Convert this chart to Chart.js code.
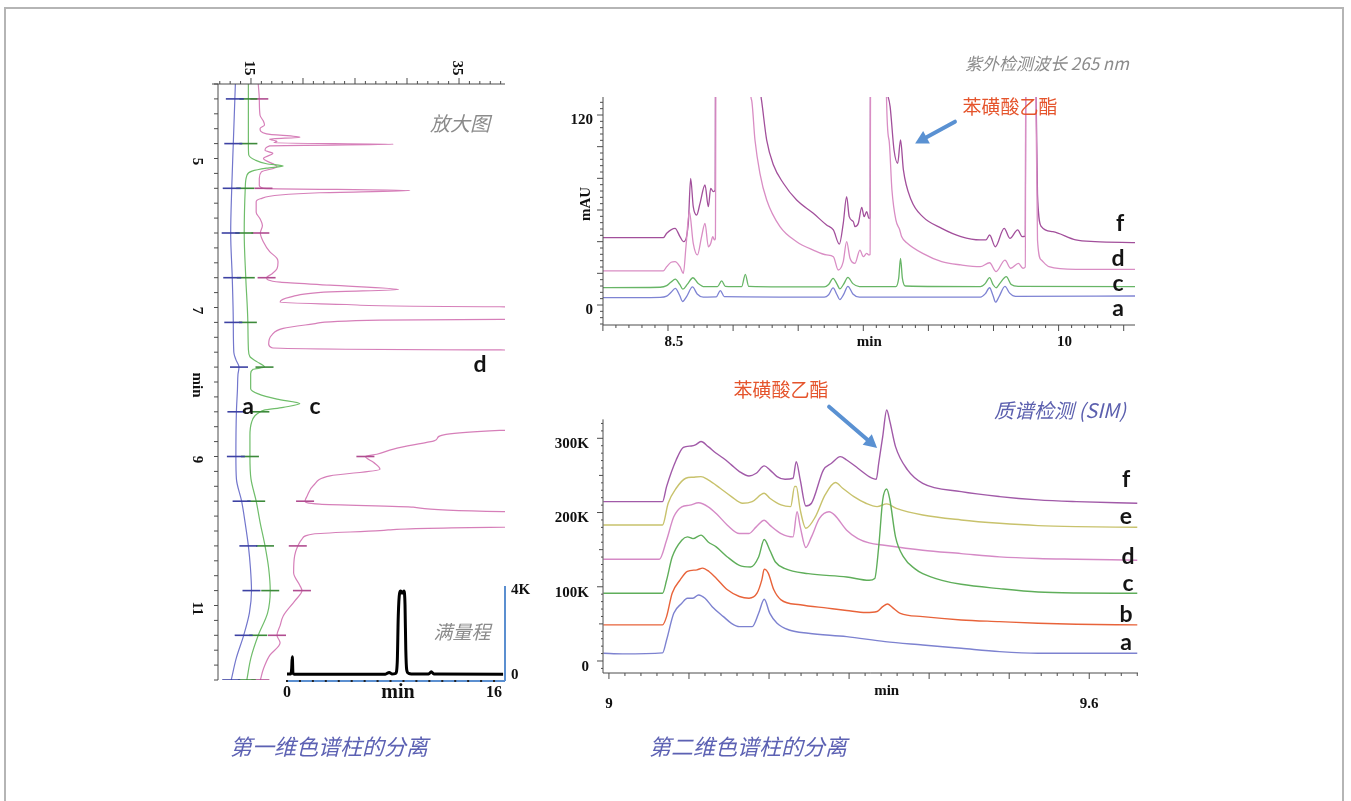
<!DOCTYPE html>
<html lang="zh-CN">
<head>
<meta charset="utf-8">
<title>二维液相色谱分离 — 苯磺酸乙酯</title>
<script src="https://cdn.jsdelivr.net/npm/chart.js@4.4.1/dist/chart.umd.min.js"></script>
<style>
  html, body { margin: 0; padding: 0; background: #fff; }
  #page { position: relative; width: 1351px; height: 801px; overflow: hidden; background: #fff; }
  #frame { position: absolute; left: 4px; top: 7px; width: 1340px; height: 830px; border: 2px solid #b5b5b5; box-sizing: border-box; }
  canvas.layer { position: absolute; left: 0; top: 0; width: 1351px; height: 801px; }
  .t { position: absolute; transform: translate(-50%, -50%); white-space: nowrap; line-height: 1; }
  .r { transform: translate(-100%, -50%); }
  .cn { font-family: "Noto Sans CJK SC", "Noto Sans", sans-serif; }
  .note { font-style: italic; color: #8b8b8b; }
  .cap { font-style: italic; color: #5c61b3; font-size: 22px; }
  .hit { color: #e5542c; font-size: 19px; }
  .tag { font: bold 23px Lato, "Open Sans", sans-serif; color: #141414; }
</style>
</head>
<body>
<div id="page">
  <div id="frame"></div>
  <canvas id="dim1" class="layer" width="1351" height="801"></canvas>
  <canvas id="full" class="layer" width="1351" height="801"></canvas>
  <canvas id="uv" class="layer" width="1351" height="801"></canvas>
  <canvas id="ms" class="layer" width="1351" height="801"></canvas>

  <!-- first dimension -->
  <div class="t cn note" style="left:460px;top:123px;font-size:20px;">放大图</div>
  <div class="t cn note" style="left:462px;top:630px;font-size:19px;">满量程</div>
  <div class="t tag" style="left:480px;top:363px;">d</div>
  <div class="t tag" style="left:248px;top:405px;">a</div>
  <div class="t tag" style="left:315px;top:405px;">c</div>
  <div class="t cn cap" style="left:329px;top:745px;">第一维色谱柱的分离</div>

  <!-- second dimension, UV -->
  <div class="t r cn note" style="left:1129px;top:62px;font-size:17px;">紫外检测波长 265 nm</div>
  <div class="t cn hit" style="left:1010px;top:105px;">苯磺酸乙酯</div>
  <div class="t tag" style="left:1120px;top:222px;">f</div>
  <div class="t tag" style="left:1118px;top:257px;">d</div>
  <div class="t tag" style="left:1118px;top:282px;">c</div>
  <div class="t tag" style="left:1118px;top:307px;">a</div>

  <!-- second dimension, MS -->
  <div class="t cn hit" style="left:781px;top:388px;">苯磺酸乙酯</div>
  <div class="t cn" style="left:1060px;top:410px;font-size:20px;font-style:italic;color:#5b5fae;">质谱检测 (SIM)</div>
  <div class="t tag" style="left:1126px;top:478px;">f</div>
  <div class="t tag" style="left:1126px;top:515px;">e</div>
  <div class="t tag" style="left:1128px;top:555px;">d</div>
  <div class="t tag" style="left:1128px;top:582px;">c</div>
  <div class="t tag" style="left:1126px;top:613px;">b</div>
  <div class="t tag" style="left:1126px;top:641px;">a</div>
  <div class="t cn cap" style="left:748px;top:745px;">第二维色谱柱的分离</div>
</div>

<script>
// ---------- first dimension (zoomed traces, time runs downward) : [time min, signal] ----------
const cutTimes = [4.2, 4.8, 5.4, 6.0, 6.6, 7.2, 7.8, 8.4, 9.0, 9.6, 10.2, 10.8, 11.4, 12.0];

const dimOneA = [[4.0,13.5],[4.2,13.45],[4.8,13.3],[5.4,13.15],[6.0,13.05],[6.6,13.2],[7.2,13.3],[7.6,13.35],
  [7.7,13.55],[7.8,13.85],[7.9,13.75],[8.1,13.7],[8.4,13.6],[9.0,13.55],[9.3,13.6],[9.6,14.1],[9.9,14.45],
  [10.2,14.75],[10.5,14.95],[10.8,15.05],[11.1,14.85],[11.4,14.3],[11.7,13.6],[12.0,13.1]];

const dimOneC = [[4.0,14.75],[4.2,14.75],[4.8,14.75],[4.95,14.78],[5.02,15.4],[5.07,16.5],[5.10,18.1],[5.13,16.5],
  [5.17,15.1],[5.23,14.6],[5.4,14.45],[6.0,14.35],[6.6,14.5],[7.2,14.7],[7.55,14.75],[7.66,14.9],[7.73,15.6],
  [7.8,16.3],[7.83,15.2],[7.89,14.97],[8.09,14.97],[8.16,15.7],[8.23,17.5],[8.29,19.7],[8.34,18.1],[8.38,16.2],
  [8.4,15.9],[8.45,15.4],[8.54,15.06],[8.72,14.9],[9.0,14.9],[9.3,15.0],[9.6,15.5],[9.9,15.9],[10.2,16.35],
  [10.5,16.7],[10.8,16.85],[11.1,16.6],[11.4,15.7],[11.7,15.0],[12.0,14.6]];

const dimOneD = [[4.0,15.7],[4.2,15.8],[4.42,15.87],[4.5,16.2],[4.55,16.3],[4.6,15.87],[4.67,16.5],[4.715,19.7],
  [4.74,16.8],[4.77,17.5],[4.79,17.2],[4.81,28.7],[4.83,16.8],[4.89,16.35],[4.93,17.1],[5.0,16.2],[5.11,17.5],
  [5.18,16.0],[5.27,15.8],[5.36,15.8],[5.40,16.2],[5.43,30.3],[5.46,21.6],[5.49,17.8],[5.54,15.9],[5.58,15.5],
  [5.72,15.5],[5.81,15.87],[5.9,16.1],[6.0,15.9],[6.12,16.2],[6.25,16.8],[6.34,17.5],[6.39,17.6],[6.48,17.5],
  [6.55,17.0],[6.6,16.5],[6.66,17.8],[6.70,22.6],[6.76,29.2],[6.79,22.6],[6.86,18.75],[6.93,17.8],[6.96,24.2],
  [6.99,38.9],[7.0,80],[7.15,80],[7.16,39],[7.17,27.4],[7.22,21],[7.28,18.1],[7.37,17.0],[7.49,16.7],[7.54,17.0],
  [7.57,39],[7.58,80],[8.64,80],[8.65,38.9],[8.76,32.9],[8.79,32.6],[8.81,31.9],[8.90,28.7],[8.97,27.1],[9.0,26.0],
  [9.08,26.8],[9.17,27.4],[9.26,22.6],[9.39,21.0],[9.53,20.4],[9.6,20.2],[9.64,21.6],[9.68,30.6],[9.74,39.2],
  [9.76,80],[9.93,80],[9.95,38],[9.995,27.4],[10.04,21],[10.11,19.9],[10.2,19.5],[10.33,19.2],[10.56,19.1],
  [10.73,19.7],[10.8,19.9],[10.94,19.2],[11.14,18.1],[11.27,17.8],[11.4,17.5],[11.5,17.8],[11.67,16.8],
  [11.85,16.2],[12.0,15.9]];

const dimOneSignalTicks = [15, 35];
const dimOneTimeTicks = [5, 7, 8, 9, 11];
const dimOneTimeText = ['5', '7', 'min', '9', '11'];

// ---------- first dimension, full scale (K counts) ----------
const fullTrace = [[0,0.05],[0.3,0.05],[0.36,0.3],[0.41,0.86],[0.46,0.1],[0.55,0.04],[7.6,0.04],[7.9,0.12],
  [8.1,0.05],[8.4,0.08],[8.52,0.6],[8.6,2.8],[8.7,3.85],[8.79,3.95],[8.9,3.85],[9.04,3.95],[9.12,3.3],[9.18,1.2],
  [9.25,0.25],[9.4,0.08],[9.6,0.05],[10.95,0.05],[11.15,0.15],[11.35,0.05],[16.7,0.04]];
const fullXTicks = [0, 8.58, 16];
const fullXText = ['0', 'min', '16'];
const fullYTicks = [0, 4];
const fullYText = ['0', '4K'];

// ---------- second dimension, UV 265 nm (mAU) : [time min, mAU] ----------
const uvA = [[8.25,4.6],[8.47,4.8],[8.495,5.6],[8.512,8.0],[8.528,10.5],[8.545,6.0],[8.556,2.2],[8.572,5.5],
  [8.594,11.4],[8.612,7.0],[8.635,5.0],[8.685,5.1],[8.701,9.1],[8.716,5.3],[9.10,5.0],[9.117,6.5],[9.134,10.8],
  [9.149,6.5],[9.160,3.4],[9.174,6.5],[9.191,11.8],[9.21,7.0],[9.235,5.0],[9.70,5.0],[9.718,7.0],[9.735,10.9],
  [9.748,6.0],[9.758,1.8],[9.772,5.5],[9.794,11.8],[9.812,7.5],[9.835,5.4],[10.294,5.7]];

const uvC = [[8.25,11.0],[8.47,11.2],[8.495,12.2],[8.512,14.5],[8.528,16.3],[8.545,13.0],[8.557,10.0],[8.574,13.0],
  [8.596,17.2],[8.615,13.8],[8.64,11.6],[8.69,11.6],[8.706,15.3],[8.72,11.8],[8.783,11.6],[8.797,19.4],[8.81,11.8],
  [9.10,11.4],[9.117,13.0],[9.134,16.8],[9.149,13.2],[9.160,10.2],[9.174,13.0],[9.191,17.4],[9.21,13.5],
  [9.235,11.6],[9.375,11.6],[9.386,17],[9.393,29.5],[9.40,17],[9.412,12.0],[9.70,11.6],[9.718,13.5],[9.735,17.3],
  [9.748,13.0],[9.760,10.9],[9.776,14.0],[9.799,17.9],[9.818,13.0],[9.845,11.8],[10.294,11.6]];

const uvD = [[8.25,21.5],[8.482,21.5],[8.495,24.2],[8.512,27.0],[8.527,27.4],[8.546,24.2],[8.559,20.0],[8.569,36.8],
  [8.582,58.9],[8.597,38.9],[8.613,31.6],[8.629,43.2],[8.642,51.6],[8.655,36.8],[8.664,38.9],[8.672,43.2],
  [8.678,41.1],[8.682,42],[8.686,300],[8.812,300],[8.816,140],[8.821,129.5],[8.834,104.2],[8.853,83.2],
  [8.879,66.3],[8.930,49.5],[8.994,40.0],[9.058,34.7],[9.109,31.6],[9.135,30.5],[9.154,22.1],[9.173,27.4],
  [9.186,40.0],[9.199,29.5],[9.218,26.3],[9.237,34.7],[9.250,30.5],[9.263,32.6],[9.272,31.6],[9.276,32],
  [9.28,300],[9.335,300],[9.338,140],[9.349,104],[9.360,72.6],[9.375,53.7],[9.390,47.4],[9.397,43.2],
  [9.419,39.0],[9.478,32.6],[9.551,27.4],[9.625,25.3],[9.699,24.2],[9.735,26.7],[9.760,21.1],[9.794,28.4],
  [9.816,23.2],[9.846,26.3],[9.863,23.2],[9.872,24],[9.876,300],[9.905,300],[9.912,150],[9.919,41.1],
  [9.934,28.4],[9.963,24.2],[10.066,22.5],[10.294,22.5]];

const uvF = [[8.25,42.5],[8.482,42.5],[8.495,45.3],[8.527,48.4],[8.546,43.2],[8.559,40.0],[8.578,51.6],[8.587,80.0],
  [8.597,62.1],[8.610,56.8],[8.623,64.2],[8.642,75.8],[8.655,62.1],[8.664,73.7],[8.674,71.6],[8.681,72.6],
  [8.684,300],[8.852,300],[8.856,140],[8.859,129.5],[8.879,104.2],[8.905,88.4],[8.943,76.9],[8.994,66.3],
  [9.058,57.9],[9.109,50.5],[9.135,47.4],[9.158,38.5],[9.173,51.6],[9.186,68.4],[9.196,55.8],[9.212,52.6],
  [9.218,49.5],[9.231,51.6],[9.244,61.7],[9.253,55.8],[9.263,58.9],[9.272,54.7],[9.276,55],[9.279,300],
  [9.338,300],[9.342,140],[9.346,131],[9.353,125.3],[9.368,97.9],[9.382,89.5],[9.393,104.2],[9.404,85.3],
  [9.434,66.3],[9.478,55.8],[9.551,48.4],[9.625,43.2],[9.699,41.1],[9.721,41.1],[9.735,44.2],[9.757,36.8],
  [9.791,48.4],[9.813,42.1],[9.843,47.4],[9.860,43.2],[9.872,43.5],[9.876,300],[9.905,300],[9.912,150],
  [9.919,70],[9.934,49.5],[9.978,46.3],[10.066,41.1],[10.140,40],[10.294,39.4]];

const uvXTicks = [8.5, 9.25, 10];
const uvXText = ['8.5', 'min', '10'];
const uvYTicks = [0, 120];
const uvYText = ['0', '120'];

// ---------- second dimension, MS SIM (K counts) : [time min, K] ----------
const msA = [[8.993,10.4],[9.017,9.6],[9.067,11.0],[9.072,28.3],[9.081,64.2],[9.091,77.7],[9.098,84.5],[9.105,84.5],
  [9.112,89.0],[9.120,84.5],[9.129,73.2],[9.143,59.8],[9.153,50.8],[9.163,46.3],[9.179,46.3],[9.187,64.2],
  [9.194,83.1],[9.201,64.2],[9.210,50.8],[9.225,41.8],[9.249,37.3],[9.297,32.8],[9.345,26.1],[9.392,21.6],
  [9.440,17.1],[9.488,12.6],[9.536,10.4],[9.660,10.4]];

const msB = [[8.993,48.6],[9.067,48.6],[9.072,59.8],[9.079,91.3],[9.089,109.3],[9.098,120.6],[9.110,122.8],
  [9.117,125.1],[9.125,120.6],[9.134,111.6],[9.148,95.9],[9.163,86.9],[9.175,84.6],[9.185,91.3],[9.191,109.3],
  [9.194,123.7],[9.199,118.3],[9.206,95.9],[9.215,82.4],[9.239,75.7],[9.273,71.2],[9.297,68.1],[9.321,65.4],
  [9.335,66.7],[9.342,73.2],[9.348,76.8],[9.354,72.3],[9.364,64.2],[9.392,59.8],[9.440,55.3],[9.488,53.0],
  [9.536,50.8],[9.584,49.5],[9.660,48.6]];

const msC = [[8.993,91.2],[9.067,91.2],[9.072,108.7],[9.079,140],[9.091,162.7],[9.098,167.2],[9.105,164.9],
  [9.115,169.6],[9.124,160.4],[9.134,153.7],[9.148,140.2],[9.163,128.9],[9.177,126.7],[9.187,140.2],
  [9.194,163.6],[9.201,149.2],[9.208,133.4],[9.220,124.4],[9.249,117.7],[9.297,113.2],[9.325,108.7],
  [9.332,111],[9.337,153.7],[9.342,216.9],[9.347,231.7],[9.351,216.9],[9.358,167.2],[9.368,140.2],
  [9.382,124.4],[9.392,117.7],[9.416,108.7],[9.440,103.3],[9.488,97.5],[9.536,93],[9.584,91.6],[9.660,91.2]];

const msD = [[8.993,137.1],[9.063,137.1],[9.072,162.7],[9.081,194.2],[9.091,207.7],[9.101,209.9],[9.112,213.1],
  [9.124,207.7],[9.134,198.7],[9.148,183.0],[9.163,171.7],[9.175,171.7],[9.184,180.7],[9.194,189.7],
  [9.201,183.0],[9.215,171.7],[9.230,167.2],[9.235,201],[9.239,180.7],[9.246,152.8],[9.253,167.2],[9.263,192],
  [9.275,201],[9.282,196.5],[9.297,176.2],[9.311,164.9],[9.325,159.1],[9.344,155.9],[9.392,149.2],[9.440,144.7],
  [9.488,140.2],[9.536,138],[9.584,137.1],[9.660,135.8]];

const msE = [[8.993,183.3],[9.067,183.3],[9.074,212.5],[9.084,232.7],[9.096,246.2],[9.105,247.6],[9.115,248.4],
  [9.124,243.9],[9.139,232.7],[9.153,221.5],[9.167,212.5],[9.179,214.7],[9.194,225.9],[9.201,219.2],
  [9.215,210.2],[9.227,208],[9.232,235],[9.234,235],[9.239,203.5],[9.246,178.8],[9.258,194.5],[9.270,223.7],
  [9.283,240.4],[9.292,232.7],[9.306,221.5],[9.321,212.5],[9.335,208],[9.347,211.6],[9.359,205.7],
  [9.392,196.7],[9.440,190],[9.488,185.5],[9.536,182.4],[9.584,181],[9.660,180.1]];

const msF = [[8.993,214.7],[9.067,214.7],[9.072,234.9],[9.084,270.8],[9.093,287.9],[9.103,289.7],[9.108,291.1],
  [9.115,295.6],[9.124,288.8],[9.134,279.9],[9.143,273.1],[9.153,264.2],[9.163,255.2],[9.175,249.3],
  [9.184,252.9],[9.194,262.8],[9.201,257.5],[9.210,248.4],[9.220,244.8],[9.230,246.2],[9.234,268.6],
  [9.239,243.9],[9.246,208.9],[9.253,212.5],[9.268,257.5],[9.278,266.4],[9.289,275.3],[9.297,270.8],
  [9.311,259.7],[9.325,248.4],[9.334,244.8],[9.337,266.4],[9.342,302.3],[9.347,338.2],[9.351,322.5],
  [9.358,288.8],[9.373,257.5],[9.392,239.4],[9.440,228.2],[9.488,221.5],[9.536,217],[9.584,214.7],[9.660,212.5]];

const msXTicks = [9.0, 9.347, 9.6];
const msXText = ['9', 'min', '9.6'];
const msYTicks = [0, 100, 200, 300];
const msYText = ['0', '100K', '200K', '300K'];

// ---------- drawing helpers ----------
const AXIS = '#4d4d4d';
const SERIF = '"Liberation Serif", "DejaVu Serif", serif';
const ARROW = '#5a91d2';

function seg(ctx, x0, y0, x1, y1) { ctx.beginPath(); ctx.moveTo(x0, y0); ctx.lineTo(x1, y1); ctx.stroke(); }
function steps(from, to, step) {
  const n = Math.round((to - from) / step);
  return Array.from({ length: n + 1 }, (_, i) => +(from + i * step).toFixed(5));
}
function isMult(v, m) { return Math.abs(v / m - Math.round(v / m)) < 1e-6; }
function label(ctx, s, x, y, font, align = 'center', rot = 0, color = '#111') {
  ctx.save();
  ctx.translate(x, y);
  if (rot) ctx.rotate(rot);
  ctx.font = font; ctx.fillStyle = color; ctx.textAlign = align; ctx.textBaseline = 'middle';
  ctx.fillText(s, 0, 0);
  ctx.restore();
}
function arrow(ctx, x0, y0, x1, y1) {
  const a = Math.atan2(y1 - y0, x1 - x0), h = 13, w = 7;
  ctx.save();
  ctx.strokeStyle = ARROW; ctx.fillStyle = ARROW; ctx.lineWidth = 4; ctx.lineCap = 'round';
  seg(ctx, x0, y0, x1 - Math.cos(a) * h * 0.8, y1 - Math.sin(a) * h * 0.8);
  ctx.beginPath();
  ctx.moveTo(x1, y1);
  ctx.lineTo(x1 - h * Math.cos(a) + w * Math.sin(a), y1 - h * Math.sin(a) - w * Math.cos(a));
  ctx.lineTo(x1 - h * Math.cos(a) - w * Math.sin(a), y1 - h * Math.sin(a) + w * Math.cos(a));
  ctx.closePath(); ctx.fill();
  ctx.restore();
}
const baseOptions = (area, xr, yr, extra = {}) => Object.assign({
  responsive: false, animation: false, events: [],
  layout: { padding: { left: area.l, top: area.t, right: 1351 - area.r, bottom: 801 - area.b } },
  scales: {
    x: Object.assign({ type: 'linear', display: false }, xr),
    y: Object.assign({ type: 'linear', display: false }, yr)
  },
  plugins: { legend: { display: false }, tooltip: { enabled: false } }
}, extra);
const trace = (pts, color, width = 1.3) => ({
  data: pts.map(([t, v]) => ({ x: t, y: v })),
  borderColor: color, borderWidth: width, pointRadius: 0, pointHoverRadius: 0,
  cubicInterpolationMode: 'monotone', fill: false, clip: 0
});

// ---------- first dimension: zoomed, rotated view ----------
const dimOneAxes = {
  id: 'dimOneAxes',
  afterDatasetsDraw(chart) {
    const { ctx, chartArea: a, scales: { x, y } } = chart;
    ctx.save();
    ctx.strokeStyle = AXIS; ctx.lineWidth = 1;
    seg(ctx, a.left - 6, a.top, a.right, a.top);
    seg(ctx, a.left, a.top, a.left, a.bottom);
    for (const v of steps(12, 39, 1)) {
      const px = x.getPixelForValue(v);
      seg(ctx, px, a.top, px, a.top - (isMult(v, 5) ? 6 : 3));
    }
    for (const v of steps(4, 12, 0.2)) {
      const py = y.getPixelForValue(v);
      seg(ctx, a.left - 4, py, a.left, py);
    }
    dimOneSignalTicks.forEach(v => label(ctx, String(v), x.getPixelForValue(v) - 2, a.top - 16, 'bold 15px ' + SERIF, 'center', Math.PI / 2));
    dimOneTimeTicks.forEach((v, i) => label(ctx, dimOneTimeText[i], a.left - 21, y.getPixelForValue(v) + 3, 'bold 15px ' + SERIF, 'center', Math.PI / 2));
    ctx.restore();
  }
};
const dimOneSet = (pts, color, tickColor) => ({
  data: pts.map(([t, v]) => ({ x: v, y: t })),
  borderColor: color, borderWidth: 1.2,
  pointStyle: 'line',
  pointRadius: c => (c.raw && cutTimes.some(ct => Math.abs(ct - c.raw.y) < 1e-6) ? 9 : 0),
  pointHoverRadius: 0,
  pointBorderColor: tickColor, pointBorderWidth: 1.6,
  cubicInterpolationMode: 'monotone', fill: false, clip: 0
});
new Chart(document.getElementById('dim1'), {
  type: 'line',
  data: { datasets: [
    dimOneSet(dimOneA, '#7276cc', '#3d42a3'),
    dimOneSet(dimOneC, '#6fbd6a', '#3d8a3b'),
    dimOneSet(dimOneD, '#d67fb9', '#b04d90')
  ] },
  options: baseOptions({ l: 218, t: 84, r: 505, b: 680 },
    { min: 11.83, max: 39.42 }, { min: 4, max: 12, reverse: true }, { indexAxis: 'y' }),
  plugins: [dimOneAxes]
});

// ---------- first dimension: full-scale inset ----------
const fullAxes = {
  id: 'fullAxes',
  afterDatasetsDraw(chart) {
    const { ctx, chartArea: a, scales: { x, y } } = chart;
    ctx.save();
    ctx.strokeStyle = '#5b8fd0'; ctx.lineWidth = 2;
    seg(ctx, a.right, a.top, a.right, a.bottom);
    seg(ctx, a.left, a.bottom, a.right, a.bottom);
    ctx.fillStyle = '#222';
    for (const v of steps(0, 16, 1)) ctx.fillRect(x.getPixelForValue(v) - 1, a.bottom - 1, 2, 2);
    fullYTicks.forEach((v, i) => label(ctx, fullYText[i], a.right + 6, y.getPixelForValue(v), 'bold 15px ' + SERIF, 'left'));
    fullXTicks.forEach((v, i) => {
      const big = fullXText[i] === 'min';
      label(ctx, fullXText[i], x.getPixelForValue(v), a.bottom + 12, (big ? 'bold 20px ' : 'bold 16px ') + SERIF);
    });
    ctx.restore();
  }
};
new Chart(document.getElementById('full'), {
  type: 'line',
  data: { datasets: [trace(fullTrace, '#000', 3)] },
  options: baseOptions({ l: 287, t: 586, r: 505, b: 681 }, { min: 0, max: 16.847 }, { min: -0.282, max: 4.188 }),
  plugins: [fullAxes]
});

// ---------- second dimension: UV ----------
const uvAxes = {
  id: 'uvAxes',
  afterDatasetsDraw(chart) {
    const { ctx, chartArea: a, scales: { x, y } } = chart;
    ctx.save();
    ctx.strokeStyle = AXIS; ctx.lineWidth = 1;
    seg(ctx, a.left, a.top, a.left, a.bottom);
    seg(ctx, a.left, a.bottom, a.right, a.bottom);
    for (const v of steps(8.25, 10.25, 0.05)) {
      const px = x.getPixelForValue(v);
      seg(ctx, px, a.bottom, px, a.bottom + (isMult(v, 0.25) ? 6 : 3));
    }
    for (const v of steps(-12, 128, 4)) {
      const py = y.getPixelForValue(v);
      seg(ctx, a.left - (isMult(v, 20) ? 6 : 3), py, a.left, py);
    }
    uvXTicks.forEach((v, i) => label(ctx, uvXText[i], x.getPixelForValue(v) + 6, a.bottom + 17, 'bold 15px ' + SERIF));
    uvYTicks.forEach((v, i) => label(ctx, uvYText[i], a.left - 10, y.getPixelForValue(v) + 5, 'bold 15px ' + SERIF, 'right'));
    label(ctx, 'mAU', a.left - 17, 204, 'bold 15px ' + SERIF, 'center', -Math.PI / 2);
    arrow(ctx, x.getPixelForValue(9.602), y.getPixelForValue(115.8), x.getPixelForValue(9.449), y.getPixelForValue(102));
    ctx.restore();
  }
};
new Chart(document.getElementById('uv'), {
  type: 'line',
  data: { datasets: [
    trace(uvA, '#7e83d3'), trace(uvC, '#67b566'), trace(uvD, '#d98dc4'), trace(uvF, '#a24f9b')
  ] },
  options: baseOptions({ l: 603, t: 97, r: 1135, b: 325 }, { min: 8.2504, max: 10.2934 }, { min: -12.63, max: 131.37 }),
  plugins: [uvAxes]
});

// ---------- second dimension: MS (SIM) ----------
const msAxes = {
  id: 'msAxes',
  afterDatasetsDraw(chart) {
    const { ctx, chartArea: a, scales: { x, y } } = chart;
    ctx.save();
    ctx.strokeStyle = AXIS; ctx.lineWidth = 1;
    seg(ctx, a.left, y.getPixelForValue(325.5), a.left, a.bottom);
    seg(ctx, a.left, a.bottom, a.right, a.bottom);
    for (const v of steps(9.0, 9.66, 0.02)) {
      const px = x.getPixelForValue(v);
      seg(ctx, px, a.bottom, px, a.bottom + (isMult(v, 0.1) ? 6 : 3));
    }
    for (const v of steps(-10, 320, 10)) {
      const py = y.getPixelForValue(v);
      seg(ctx, a.left - (isMult(v, 100) ? 6 : isMult(v, 50) ? 4 : 2), py, a.left, py);
    }
    msXTicks.forEach((v, i) => label(ctx, msXText[i], x.getPixelForValue(v), a.bottom + (msXText[i] === 'min' ? 18 : 31), 'bold 15px ' + SERIF));
    msYTicks.forEach((v, i) => label(ctx, msYText[i], a.left - 14, y.getPixelForValue(v) + 6, 'bold 15px ' + SERIF, 'right'));
    arrow(ctx, x.getPixelForValue(9.275), y.getPixelForValue(342.6), x.getPixelForValue(9.335), y.getPixelForValue(287));
    ctx.restore();
  }
};
new Chart(document.getElementById('ms'), {
  type: 'line',
  data: { datasets: [
    trace(msA, '#7d82d0', 1.4), trace(msB, '#e8633a', 1.4), trace(msC, '#5fae5a', 1.4),
    trace(msD, '#d58ac6', 1.4), trace(msE, '#c8c26c', 1.4), trace(msF, '#a15aa8', 1.4)
  ] },
  options: baseOptions({ l: 603, t: 400, r: 1138, b: 673 }, { min: 8.9926, max: 9.6609 }, { min: -16.17, max: 351.6 }),
  plugins: [msAxes]
});
</script>
</body>
</html>
